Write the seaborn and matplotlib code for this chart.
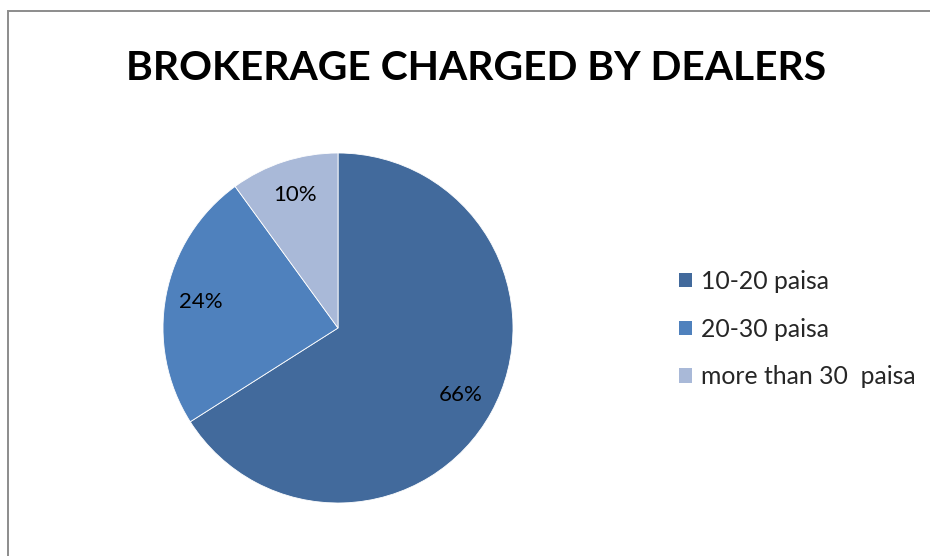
import matplotlib
matplotlib.use("Agg")
import matplotlib.pyplot as plt
from matplotlib.patches import Rectangle, Patch
import seaborn as sns

# Brokerage share by charge bracket
categories = ["10-20 paisa", "20-30 paisa", "more than 30  paisa"]
shares = [66, 24, 10]
colors = ["#426A9C", "#4F81BD", "#A9B9D8"]
title = "BROKERAGE CHARGED BY DEALERS"

sns.set_theme(style="white")
plt.rcParams["font.family"] = ["Lato", "DejaVu Sans"]

fig = plt.figure(figsize=(9.30, 5.56), dpi=100)
W, H = 930, 556

# Pie axes placed in pixel terms
ax = fig.add_axes([163 / W, 1 - 503 / H, 350 / W, 350 / H])
wedges, texts, autotexts = ax.pie(
    shares,
    colors=colors,
    startangle=90,
    counterclock=False,
    autopct=lambda p: f"{p:.0f}%",
    pctdistance=0.8,
    wedgeprops=dict(linewidth=0.6, edgecolor="white"),
    textprops=dict(fontsize=16, color="black"),
)
ax.set_xlim(-1, 1)
ax.set_ylim(-1, 1)
ax.set_aspect("equal")
ax.axis("off")

fig.text(476 / W, 1 - 69 / H, title, ha="center", va="center",
         fontsize=29.3, fontweight="bold", color="black")

handles = [Patch(facecolor=c, edgecolor="none") for c in colors]
fig.legend(handles, categories, loc="center left",
           bbox_to_anchor=(679 / W, 1 - 329 / H), frameon=False,
           fontsize=17.8, handlelength=0.52, handleheight=0.52,
           handletextpad=0.38, labelspacing=1.0, borderpad=0,
           borderaxespad=0)

# Outer chart frame
fig.patches.append(Rectangle((8 / W, -0.1), 1.2, 1.1 - 11 / H,
                             transform=fig.transFigure, fill=False,
                             edgecolor="#8C8C8C", linewidth=1.4))

fig.savefig("out.png", dpi=100, facecolor="white")
